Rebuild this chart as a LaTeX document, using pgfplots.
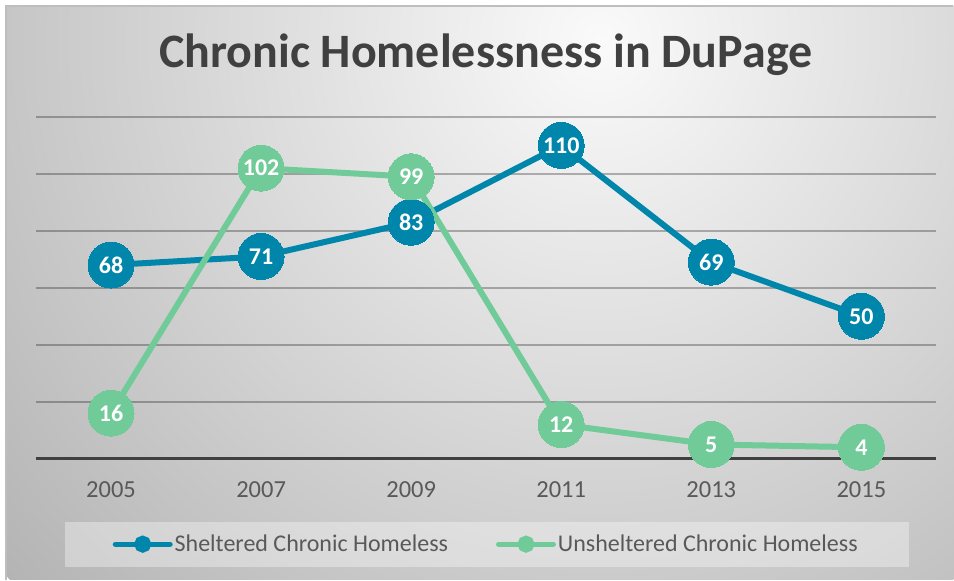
\documentclass[border=0pt]{standalone}
\usepackage{pgfplots}
\pgfplotsset{compat=1.18}
\usepackage{fontspec}
\setmainfont{Carlito}
\definecolor{sblue}{RGB}{0,134,170}
\definecolor{sgreen}{RGB}{112,203,153}
\definecolor{txtgray}{RGB}{89,89,89}
\definecolor{titlegray}{RGB}{64,64,64}
\begin{document}
\begin{tikzpicture}[x=1bp,y=1bp]
\fill[white] (0,0) rectangle (954,580);
\begin{scope}
\clip (6,0) rectangle (954,574);
\shade[inner color={rgb,255:red,250;green,250;blue,250}, outer color={rgb,255:red,180;green,180;blue,180}] (600,540) circle (800);
\end{scope}
\draw[line width=1.2bp, color={rgb,255:red,190;green,190;blue,190}] (6,0) -- (6,574) -- (954,574);
\node[anchor=base, text=titlegray, font=\fontsize{48bp}{56bp}\selectfont\bfseries] at (486,512) {Chronic Homelessness in DuPage};
\fill[white, opacity=0.35] (65,13) rectangle (910,58);
\begin{axis}[
  at={(36bp,121bp)}, anchor=south west,
  scale only axis, width=901bp, height=342bp,
  xmin=-0.5, xmax=5.5, ymin=0, ymax=120,
  clip=false,
  axis line style={draw=none},
  major tick length=0,
  xtick={0,1,2,3,4,5},
  xticklabels={2005,2007,2009,2011,2013,2015},
  xticklabel style={anchor=base, yshift=-39bp, text=txtgray, font=\fontsize{24.5bp}{28bp}\selectfont},
  ytick={20,40,60,80,100,120},
  yticklabels={},
  ymajorgrids,
  grid style={draw=black, draw opacity=0.28, line width=1.6bp},
  extra y ticks={0},
  extra y tick labels={},
  extra y tick style={grid style={draw=black!75, draw opacity=1, line width=3.5bp}},
  /pgf/number format/assume math mode=true,
  nodes near coords,
  nodes near coords style={anchor=center, text=white, font=\fontsize{24bp}{28bp}\selectfont\bfseries},
  legend columns=2,
  legend style={at={(0.5,-0.25)}, anchor=center, draw=none, fill=none,
    font=\fontsize{24bp}{28bp}\selectfont, text=txtgray,
    /tikz/every even column/.append style={column sep=46bp}},
  legend cell align=left,
]
\addplot[sblue, line width=6bp, mark=*, mark size=23bp, mark options={fill=sblue, draw=sblue, line width=0}, legend image code/.code={
  \draw[line width=5bp, line cap=round, sblue] (0bp,0bp) -- (55bp,0bp);
  \fill[sblue] (27.5bp,0bp) circle (5.5bp);}]
  coordinates {(0,68) (1,71) (2,83) (3,110) (4,69) (5,50)};
\addlegendentry{Sheltered Chronic Homeless}
\addplot[sgreen, line width=6bp, mark=*, mark size=23bp, mark options={fill=sgreen, draw=sgreen, line width=0}, legend image code/.code={
  \draw[line width=5bp, line cap=round, sgreen] (0bp,0bp) -- (55bp,0bp);
  \fill[sgreen] (27.5bp,0bp) circle (5.5bp);}]
  coordinates {(0,16) (1,102) (2,99) (3,12) (4,5) (5,4)};
\addlegendentry{Unsheltered Chronic Homeless}
\end{axis}
\end{tikzpicture}
\end{document}
